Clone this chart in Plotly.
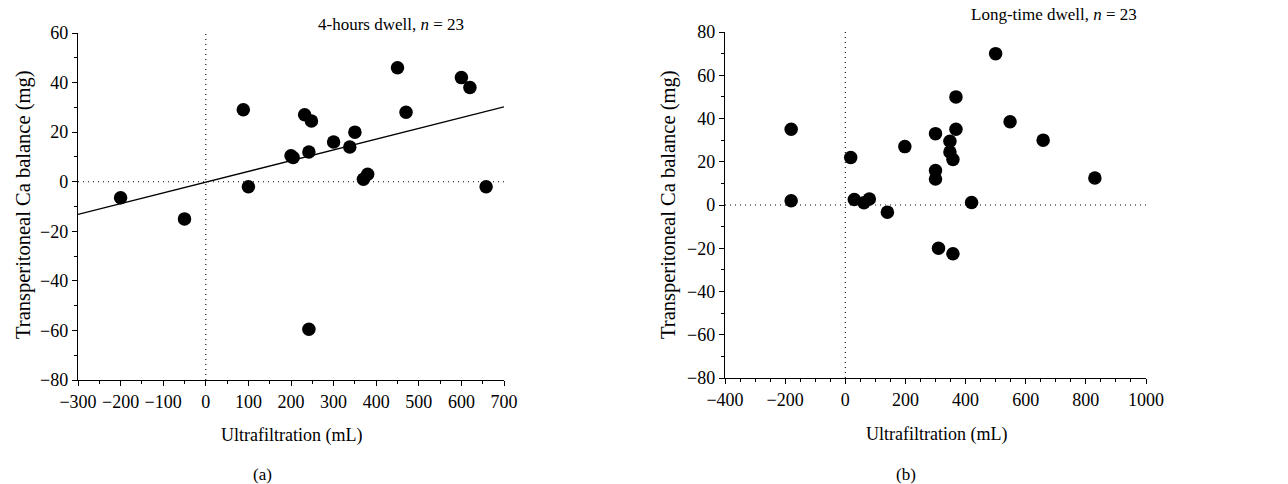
import plotly.graph_objects as go

# Panel (a): 4-hours dwell
a_uf = [-200, -50, 88, 100, 200, 205, 232, 248, 242, 300, 338, 350, 370, 380, 450, 470, 600, 620, 658, 242]
a_ca = [-6.5, -15, 29, -2, 10.5, 9.8, 27, 24.5, 12, 16, 14, 20, 1, 3, 46, 28, 42, 38, -2, -59.5]
a_fit_slope = 0.0434
a_fit_intercept = -0.2
a_fit_x = [-300, 700]

# Panel (b): Long-time dwell
b_uf = [-180, -180, 18, 30, 62, 80, 140, 198, 300, 300, 300, 348, 348, 358, 368, 368, 420, 500, 548, 658, 830, 310, 358]
b_ca = [35, 2, 22, 2.5, 1, 2.8, -3.3, 27, 33, 16, 12, 29.5, 24.5, 21, 50, 35, 1.2, 70, 38.5, 30, 12.5, -20, -22.5]

FONT = "Liberation Serif"
W, H = 1288, 484

fig = go.Figure()
mk = dict(color="black", size=13.5, line=dict(width=0))
fig.add_trace(go.Scatter(x=a_uf, y=a_ca, mode="markers", marker=mk, xaxis="x", yaxis="y", showlegend=False))
fig.add_trace(go.Scatter(x=a_fit_x, y=[a_fit_slope * v + a_fit_intercept for v in a_fit_x], mode="lines",
                         line=dict(color="black", width=1.3), xaxis="x", yaxis="y", showlegend=False))
fig.add_trace(go.Scatter(x=b_uf, y=b_ca, mode="markers", marker=mk, xaxis="x2", yaxis="y2", showlegend=False))

def px_dom(a, b, total):
    return [a / total, b / total]

axcommon = dict(showgrid=False, zeroline=False, showline=True, linecolor="black", linewidth=1.3,
                ticks="outside", ticklen=5, tickwidth=1.2, tickcolor="black", automargin=False,
                tickfont=dict(family=FONT, size=18, color="black"))
minor = dict(ticks="outside", ticklen=3, tickcolor="black", tickwidth=1)

fig.update_layout(
    width=W, height=H, margin=dict(l=0, r=0, t=0, b=0, autoexpand=False),
    paper_bgcolor="white", plot_bgcolor="white",
    xaxis=dict(domain=px_dom(78, 504, W), range=[-300, 700], dtick=100, tick0=0, anchor="y",
               minor=dict(dtick=50, **minor), **axcommon),
    yaxis=dict(domain=[(H - 380) / H, (H - 33) / H], range=[-80, 60], dtick=20, tick0=0, anchor="x",
               minor=dict(dtick=10, **minor), **axcommon),
    xaxis2=dict(domain=px_dom(725, 1146, W), range=[-400, 1000], dtick=200, tick0=0, anchor="y2",
                minor=dict(dtick=50, **minor), **axcommon),
    yaxis2=dict(domain=[(H - 378) / H, (H - 32) / H], range=[-80, 80], dtick=20, tick0=0, anchor="x2",
                minor=dict(dtick=10, **minor), **axcommon),
)

dot = dict(color="black", width=1.1, dash="1px,4px")
for xr, yr, xmin, xmax, ymin, ymax in [("x", "y", -300, 700, -80, 60), ("x2", "y2", -400, 1000, -80, 80)]:
    fig.add_shape(type="line", xref=xr, yref=yr, x0=0, x1=0, y0=ymin, y1=ymax, line=dot, layer="below")
    fig.add_shape(type="line", xref=xr, yref=yr, x0=xmin, x1=xmax, y0=0, y1=0, line=dot, layer="below")

def ann(text, x, y, size=16, angle=0, xanchor="center"):
    fig.add_annotation(text=text, x=x / W, y=1 - y / H, xref="paper", yref="paper", showarrow=False,
                       textangle=angle, xanchor=xanchor, yanchor="middle",
                       font=dict(family=FONT, size=size, color="black"))

ann("4-hours dwell, <i>n</i> = 23", 391, 24, size=17)
ann("Long-time dwell, <i>n</i> = 23", 1139, 15, size=17, xanchor="right")
ann("Ultrafiltration (mL)", 291, 435, size=18)
ann("Ultrafiltration (mL)", 936, 434, size=18)
ann("(a)", 262, 474, size=17)
ann("(b)", 906, 474, size=17)
ann("Transperitoneal Ca balance (mg)", 23, 205, size=20.5, angle=-90)
ann("Transperitoneal Ca balance (mg)", 668, 205, size=20.5, angle=-90)

fig.write_html("out.html", config={"displayModeBar": False},
               post_script="document.body.style.margin='0';document.body.style.overflow='hidden';")
